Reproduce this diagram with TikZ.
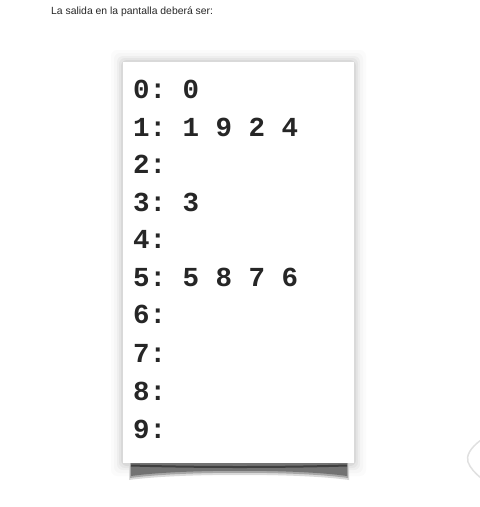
\documentclass[tikz,border=0pt]{standalone}
\usepackage{fontspec}
\setmainfont{Liberation Sans}
\newfontfamily\codefont{Liberation Mono}
\begin{document}
\begin{tikzpicture}[x=1pt,y=-1pt,
  codeline/.style={anchor=base west, inner sep=0pt, font=\frenchspacing\codefont\bfseries\fontsize{27.5}{27.5}\selectfont, text=black!85},
  titletext/.style={anchor=base west, inner sep=0pt, font=\fontsize{10.4}{11}\selectfont, text=black!85}]
\useasboundingbox (0,0) rectangle (480,507);
% soft shadow around the card
\foreach \d/\o in {12/0.015,9/0.02,6/0.03,4/0.04,2/0.05}{
  \fill[black, opacity=\o, rounded corners=6] (123-\d,62-\d) rectangle (354+\d,464+\d);
}
% curled bottom shadow (blurred layers)
\fill[black!15] (129,462) -- (349,462) -- (349,480)
  .. controls (300,473) and (180,473) .. (129,480) -- cycle;
\fill[black!35] (130,462) -- (348,462) -- (348,478)
  .. controls (300,471) and (180,471) .. (130,478) -- cycle;
\fill[black!55] (131,463) -- (347,463) -- (347,476)
  .. controls (300,469) and (180,469) .. (131,476) -- cycle;
\draw[black!75, line width=2pt] (131,465.5) .. controls (200,467.5) and (280,467.5) .. (347,465.5);
% card
\node[draw=none, fill=white, minimum width=231pt, minimum height=401pt, inner sep=0pt, anchor=north west] (card) at (123,62) {};
% title
\node[titletext] (title) at (51,14) {La salida en la pantalla deberá ser:};
% lines
\node[codeline] (l0) at (133,98) {0: 0};
\node[codeline] (l1) at (133,136) {1: 1 9 2 4};
\node[codeline] (l2) at (133,173) {2:};
\node[codeline] (l3) at (133,211) {3: 3};
\node[codeline] (l4) at (133,248) {4:};
\node[codeline] (l5) at (133,286) {5: 5 8 7 6};
\node[codeline] (l6) at (133,323) {6:};
\node[codeline] (l7) at (133,362) {7:};
\node[codeline] (l8) at (133,400) {8:};
\node[codeline] (l9) at (133,438) {9:};
% partial round control at right edge
\draw[black!12, line width=1.5pt] (481,440) .. controls (470,448) and (466,456) .. (468,462)
  .. controls (470,468) and (476,474) .. (481,478);
\end{tikzpicture}
\end{document}
